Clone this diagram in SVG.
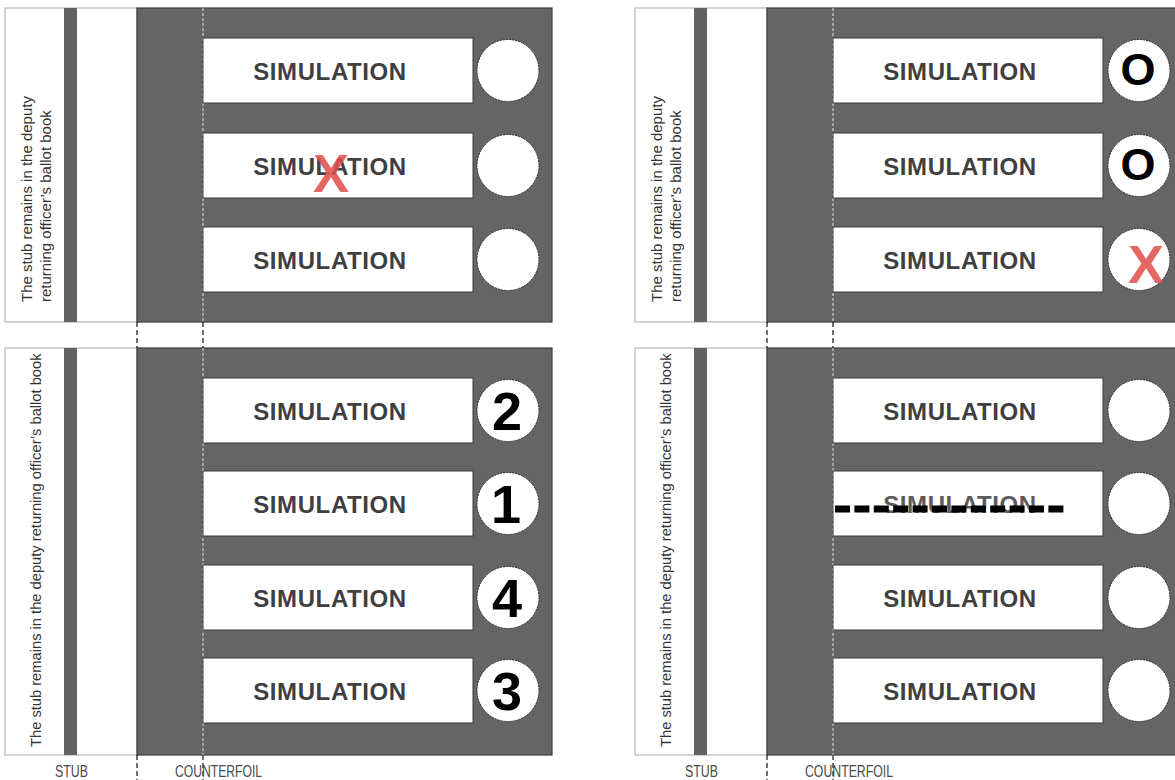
<svg xmlns="http://www.w3.org/2000/svg" width="1175" height="780" viewBox="0 0 1175 780">
<style>
  .stubbox { fill: #ffffff; stroke: #a8a8a8; stroke-width: 1; }
  .strip { fill: #616161; }
  .panel { fill: #656565; stroke: #3e3e3e; stroke-width: 1.2; }
  .perf { stroke: #e6e6e6; stroke-width: 1; stroke-dasharray: 3 2; fill: none; }
  .cut { stroke: #111111; stroke-width: 1.2; stroke-dasharray: 5 3; fill: none; }
  .row { fill: #ffffff; stroke: #3a3a3a; stroke-width: 1; }
  .circ { fill: #ffffff; stroke: #2e2e2e; stroke-width: 1; stroke-dasharray: 2 1; }
  .sim { font-family: "Liberation Sans", Arial, sans-serif; font-weight: bold; font-size: 24px; fill: #3f3f3f; text-anchor: middle; letter-spacing: 0.6px; }
  .simfade { fill: #5c5c5c; }
  .stubtxt { font-family: "Liberation Sans", Arial, sans-serif; font-size: 15px; fill: #333333; }
  .num { font-family: "Liberation Sans", Arial, sans-serif; font-weight: bold; font-size: 54px; fill: #000000; text-anchor: middle; }
  .omark { font-family: "Liberation Sans", Arial, sans-serif; font-weight: bold; font-size: 45px; fill: #000000; text-anchor: middle; }
  .xmark { font-family: "Liberation Sans", Arial, sans-serif; font-weight: bold; font-size: 54px; fill: #e0524f; fill-opacity: 0.88; text-anchor: middle; }
  .label { font-family: "Liberation Sans Narrow", "Liberation Sans", Arial, sans-serif; font-size: 16px; fill: #4a4a4a; }
</style>

<!-- Top-left ballot -->
<g id="ballot-top-left">
  <rect class="stubbox" x="5" y="8" width="132" height="314"/>
  <rect class="strip" x="64" y="8" width="13" height="314"/>
  <rect class="panel" x="137" y="8" width="415" height="314"/>
  <line class="perf" x1="203" y1="8" x2="203" y2="322"/>
  <text class="stubtxt" transform="translate(32,302) rotate(-90)">The stub remains in the deputy</text>
  <text class="stubtxt" transform="translate(51,302) rotate(-90)">returning officer’s ballot book</text>
  <g id="tl-row1">
    <rect class="row" x="203" y="38" width="270" height="65"/>
    <text class="sim" x="330" y="79.5">SIMULATION</text>
    <circle class="circ" cx="508" cy="70.5" r="31"/>
  </g>
  <g id="tl-row2">
    <rect class="row" x="203" y="133" width="270" height="65"/>
    <text class="sim" x="330" y="174.5">SIMULATION</text>
    <circle class="circ" cx="508" cy="165.5" r="31"/>
    <text class="xmark" x="331" y="192">X</text>
  </g>
  <g id="tl-row3">
    <rect class="row" x="203" y="227" width="270" height="65"/>
    <text class="sim" x="330" y="268.5">SIMULATION</text>
    <circle class="circ" cx="508" cy="259.5" r="31"/>
  </g>
</g>

<!-- Top-right ballot -->
<g id="ballot-top-right">
  <rect class="stubbox" x="635" y="8" width="132" height="314"/>
  <rect class="strip" x="694" y="8" width="13" height="314"/>
  <rect class="panel" x="767" y="8" width="415" height="314"/>
  <line class="perf" x1="833" y1="8" x2="833" y2="322"/>
  <text class="stubtxt" transform="translate(662,302) rotate(-90)">The stub remains in the deputy</text>
  <text class="stubtxt" transform="translate(681,302) rotate(-90)">returning officer’s ballot book</text>
  <g id="tr-row1">
    <rect class="row" x="833" y="38" width="270" height="65"/>
    <text class="sim" x="960" y="79.5">SIMULATION</text>
    <circle class="circ" cx="1139" cy="70.5" r="31"/>
    <text class="omark" x="1138" y="85">O</text>
  </g>
  <g id="tr-row2">
    <rect class="row" x="833" y="133" width="270" height="65"/>
    <text class="sim" x="960" y="174.5">SIMULATION</text>
    <circle class="circ" cx="1139" cy="165.5" r="31"/>
    <text class="omark" x="1138" y="180">O</text>
  </g>
  <g id="tr-row3">
    <rect class="row" x="833" y="227" width="270" height="65"/>
    <text class="sim" x="960" y="268.5">SIMULATION</text>
    <circle class="circ" cx="1139" cy="259.5" r="31"/>
    <text class="xmark" x="1146" y="283">X</text>
  </g>
</g>

<!-- Bottom-left ballot -->
<g id="ballot-bottom-left">
  <rect class="stubbox" x="5" y="348" width="132" height="407"/>
  <rect class="strip" x="64" y="348" width="13" height="407"/>
  <rect class="panel" x="137" y="348" width="415" height="407"/>
  <line class="perf" x1="203" y1="348" x2="203" y2="755"/>
  <text class="stubtxt" transform="translate(41,747) rotate(-90)" style="font-size:14.7px">The stub remains in the deputy returning officer’s ballot book</text>
  <g id="bl-row1">
    <rect class="row" x="203" y="378" width="270" height="65"/>
    <text class="sim" x="330" y="419.5">SIMULATION</text>
    <circle class="circ" cx="508" cy="410.5" r="31"/>
    <text class="num" x="507" y="430">2</text>
  </g>
  <g id="bl-row2">
    <rect class="row" x="203" y="471" width="270" height="65"/>
    <text class="sim" x="330" y="512.5">SIMULATION</text>
    <circle class="circ" cx="508" cy="503.5" r="31"/>
    <text class="num" x="506" y="523">1</text>
  </g>
  <g id="bl-row3">
    <rect class="row" x="203" y="565" width="270" height="65"/>
    <text class="sim" x="330" y="606.5">SIMULATION</text>
    <circle class="circ" cx="508" cy="597.5" r="31"/>
    <text class="num" x="507" y="617">4</text>
  </g>
  <g id="bl-row4">
    <rect class="row" x="203" y="658" width="270" height="65"/>
    <text class="sim" x="330" y="699.5">SIMULATION</text>
    <circle class="circ" cx="508" cy="690.5" r="31"/>
    <text class="num" x="507" y="710">3</text>
  </g>
</g>

<!-- Bottom-right ballot -->
<g id="ballot-bottom-right">
  <rect class="stubbox" x="635" y="348" width="132" height="407"/>
  <rect class="strip" x="694" y="348" width="13" height="407"/>
  <rect class="panel" x="767" y="348" width="415" height="407"/>
  <line class="perf" x1="833" y1="348" x2="833" y2="755"/>
  <text class="stubtxt" transform="translate(671,747) rotate(-90)" style="font-size:14.7px">The stub remains in the deputy returning officer’s ballot book</text>
  <g id="br-row1">
    <rect class="row" x="833" y="378" width="270" height="65"/>
    <text class="sim" x="960" y="419.5">SIMULATION</text>
    <circle class="circ" cx="1139" cy="410.5" r="31"/>
  </g>
  <g id="br-row2">
    <rect class="row" x="833" y="471" width="270" height="65"/>
    <text class="sim simfade" x="960" y="512.5">SIMULATION</text>
    <circle class="circ" cx="1139" cy="503.5" r="31"/>
    <line x1="835" y1="509" x2="1064" y2="509" stroke="#000000" stroke-width="7" stroke-dasharray="15 4.4"/>
  </g>
  <g id="br-row3">
    <rect class="row" x="833" y="565" width="270" height="65"/>
    <text class="sim" x="960" y="606.5">SIMULATION</text>
    <circle class="circ" cx="1139" cy="597.5" r="31"/>
  </g>
  <g id="br-row4">
    <rect class="row" x="833" y="658" width="270" height="65"/>
    <text class="sim" x="960" y="699.5">SIMULATION</text>
    <circle class="circ" cx="1139" cy="690.5" r="31"/>
  </g>
</g>

<!-- Cut lines between and below the ballots -->
<g id="connectors">
  <line class="cut" x1="137" y1="322" x2="137" y2="348"/>
  <line class="cut" x1="203" y1="322" x2="203" y2="348"/>
  <line class="cut" x1="137" y1="755" x2="137" y2="780"/>
  <line class="cut" x1="203" y1="755" x2="203" y2="780"/>
  <line class="cut" x1="767" y1="322" x2="767" y2="348"/>
  <line class="cut" x1="833" y1="322" x2="833" y2="348"/>
  <line class="cut" x1="767" y1="755" x2="767" y2="780"/>
  <line class="cut" x1="833" y1="755" x2="833" y2="780"/>
</g>

<g id="labels">
  <text class="label" x="55" y="777" textLength="33" lengthAdjust="spacingAndGlyphs">STUB</text>
  <text class="label" x="175" y="777" textLength="87" lengthAdjust="spacingAndGlyphs">COUNTERFOIL</text>
  <text class="label" x="685" y="777" textLength="33" lengthAdjust="spacingAndGlyphs">STUB</text>
  <text class="label" x="805" y="777" textLength="88" lengthAdjust="spacingAndGlyphs">COUNTERFOIL</text>
</g>
</svg>
